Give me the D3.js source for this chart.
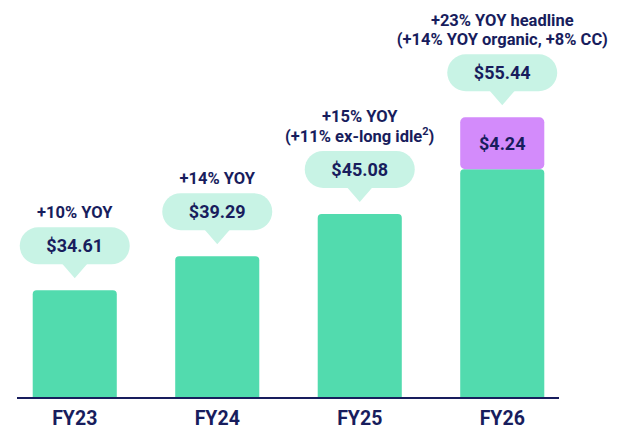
<!DOCTYPE html>
<html>
<head>
<meta charset="utf-8">
<script src="https://cdn.jsdelivr.net/npm/d3@7"></script>
<style>
  html, body { margin: 0; padding: 0; background: #ffffff; }
  svg { display: block; font-family: Roboto, "Noto Sans", sans-serif; }
</style>
</head>
<body>
<svg id="chart" width="619" height="429"></svg>
<script>
// ---- data ----
const categories = ["FY23", "FY24", "FY25", "FY26"];
const baseValues = [34.61, 39.29, 45.08, 51.20];
const addOnValues = [0, 0, 0, 4.24];
const growthNotes = [
  ["+10% YOY"],
  ["+14% YOY"],
  ["+15% YOY", "(+11% ex-long idle^2)"],
  ["+23% YOY headline", "(+14% YOY organic, +8% CC)"]
];
const yDomain = [20, 60];

// ---- style ----
const navy = "#181d5d";
const green = "#52dbae";
const mint = "#c8f3e5";
const purple = "#d38bfb";
const baseY = 397;
const minSegH = 52;
const bubbleW = 110, bubbleH = 37, tipH = 14, tipHalf = 13, tipGap = 12;

const svg = d3.select("#chart");

const x = d3.scaleBand()
  .domain(categories)
  .range([3.5, 573.5])
  .paddingInner(0.41)
  .paddingOuter(0.205);

const y = d3.scaleLinear()
  .domain(yDomain)
  .range([baseY, 105]);

const bw = x.bandwidth();
const fmt = d3.format("$.2f");

function topRounded(x0, y0, w, h, r) {
  return `M${x0},${y0 + h}V${y0 + r}Q${x0},${y0} ${x0 + r},${y0}H${x0 + w - r}Q${x0 + w},${y0} ${x0 + w},${y0 + r}V${y0 + h}Z`;
}

const data = categories.map((c, i) => {
  const yBase = y(baseValues[i]);
  const segH = addOnValues[i] > 0 ? Math.max(yBase - y(baseValues[i] + addOnValues[i]), minSegH) : 0;
  return {
    cat: c,
    base: baseValues[i],
    add: addOnValues[i],
    total: baseValues[i] + addOnValues[i],
    yBase,
    segH,
    top: yBase - segH,
    notes: growthNotes[i]
  };
});

// green bars
svg.append("g").selectAll("path")
  .data(data)
  .join("path")
  .attr("d", d => topRounded(x(d.cat), d.yBase, bw, baseY - d.yBase, 4))
  .attr("fill", green);

// add-on segment (purple)
const seg = svg.append("g").selectAll("g")
  .data(data.filter(d => d.add > 0))
  .join("g");
seg.append("rect")
  .attr("x", d => x(d.cat))
  .attr("y", d => d.top)
  .attr("width", bw)
  .attr("height", d => d.segH)
  .attr("rx", 5)
  .attr("fill", purple);
seg.append("text")
  .attr("x", d => x(d.cat) + bw / 2)
  .attr("y", d => d.top + d.segH / 2)
  .attr("dy", "0.36em")
  .attr("text-anchor", "middle")
  .attr("font-size", 18)
  .attr("font-weight", 700)
  .attr("fill", navy)
  .text(d => fmt(d.add));

// bubbles
const bub = svg.append("g").selectAll("g")
  .data(data)
  .join("g")
  .attr("transform", d => `translate(${x(d.cat) + bw / 2},${d.top - tipGap - tipH - bubbleH})`);

bub.append("rect")
  .attr("x", -bubbleW / 2)
  .attr("y", 0)
  .attr("width", bubbleW)
  .attr("height", bubbleH)
  .attr("rx", bubbleH / 2)
  .attr("fill", mint);
bub.append("path")
  .attr("d", `M${-tipHalf},${bubbleH - 1}L0,${bubbleH + tipH}L${tipHalf},${bubbleH - 1}Z`)
  .attr("fill", mint);
bub.append("text")
  .attr("x", 0)
  .attr("y", bubbleH / 2)
  .attr("dy", "0.36em")
  .attr("text-anchor", "middle")
  .attr("font-size", 18)
  .attr("font-weight", 700)
  .attr("fill", navy)
  .text(d => fmt(d.total));

// growth notes
const lineH = 19.5;
bub.each(function(d) {
  const g = d3.select(this);
  const n = d.notes.length;
  d.notes.forEach((line, j) => {
    const t = g.append("text")
      .attr("x", 0)
      .attr("y", -9 - (n - 1 - j) * lineH)
      .attr("text-anchor", "middle")
      .attr("font-size", 16.5)
      .attr("font-weight", 700)
      .attr("fill", navy);
    const parts = line.split(/\^(\d)/);
    parts.forEach((p, k) => {
      if (k % 2 === 1) {
        t.append("tspan").attr("font-size", 11).attr("dy", "-0.6em").text(p);
      } else if (p.length) {
        const ts = t.append("tspan").text(p);
        if (k > 0) ts.attr("dy", "0.4em");
      }
    });
  });
});

// axis
const axisG = svg.append("g")
  .attr("transform", `translate(0,${baseY + 1})`)
  .call(d3.axisBottom(x).tickSize(0).tickPadding(13));
axisG.select(".domain").remove();
axisG.selectAll("text")
  .attr("font-size", 19.5)
  .attr("font-weight", 700)
  .attr("font-family", "Roboto, sans-serif")
  .attr("fill", navy);
const r = x.range();
axisG.append("line")
  .attr("x1", r[0] + 13.5)
  .attr("x2", r[1] - 14.5)
  .attr("y1", 0)
  .attr("y2", 0)
  .attr("stroke", navy)
  .attr("stroke-width", 2);
</script>
</body>
</html>
